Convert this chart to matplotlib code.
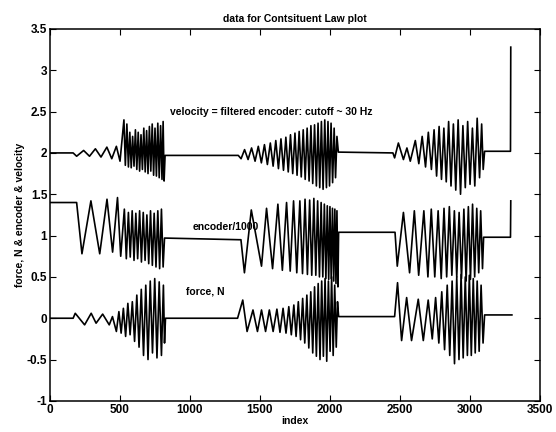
import matplotlib
matplotlib.use("Agg")
import matplotlib.pyplot as plt

# velocity = filtered encoder (offset ~2)
vel1_x = [0, 165, 190, 240, 282, 324, 364, 406, 441, 474, 500,
          528, 538, 549, 560, 570, 580, 590, 600, 610, 620, 630, 640, 650, 660, 670,
          680, 690, 700, 710, 720, 730, 740, 750, 760, 770, 780, 790, 800, 808, 815, 822]
vel1_y = [2.00, 2.00, 1.96, 2.03, 1.96, 2.05, 1.95, 2.07, 1.93, 2.08, 1.90,
          2.40, 1.85, 2.35, 1.83, 2.25, 1.82, 2.20, 1.84, 2.28, 1.80, 2.25, 1.78, 2.22, 1.80, 2.30,
          1.77, 2.27, 1.75, 2.32, 1.78, 2.35, 1.73, 2.30, 1.72, 2.36, 1.70, 2.33, 1.68, 2.38, 1.66, 1.97]
vel2_x = [1345, 1365, 1390, 1415, 1440, 1465, 1488, 1510, 1532, 1553, 1574, 1594, 1613, 1632, 1650,
          1668, 1685, 1702, 1718, 1734, 1750, 1765, 1780, 1795, 1809, 1823, 1837, 1851, 1864, 1877,
          1890, 1903, 1915, 1927, 1939, 1951, 1963, 1975, 1986, 1997, 2008, 2019, 2030, 2040, 2050, 2060]
vel2_y = [1.97, 1.93, 2.04, 1.92, 2.06, 1.90, 2.08, 1.88, 2.10, 1.86, 2.12, 1.84, 2.15, 1.81, 2.17,
          1.79, 2.19, 1.77, 2.22, 1.75, 2.24, 1.73, 2.26, 1.71, 2.28, 1.68, 2.30, 1.66, 2.33, 1.63,
          2.34, 1.60, 2.36, 1.58, 2.38, 1.56, 2.40, 1.58, 2.38, 1.60, 2.36, 1.64, 2.30, 1.70, 2.20, 2.01]
vel3_x = [2450, 2462, 2489, 2525, 2550, 2574, 2610, 2635, 2659, 2683, 2703, 2725, 2744, 2762, 2780,
          2797, 2814, 2831, 2848, 2865, 2882, 2899, 2916, 2933, 2950, 2967, 2984, 3001, 3018, 3035,
          3052, 3069, 3084, 3095, 3105, 3290, 3292]
vel3_y = [2.00, 1.94, 2.12, 1.92, 2.06, 1.90, 2.15, 1.87, 2.20, 1.83, 2.25, 1.80, 2.28, 1.72, 2.32,
          1.68, 2.30, 1.65, 2.38, 1.60, 2.35, 1.55, 2.40, 1.50, 2.33, 1.58, 2.38, 1.62, 2.30, 1.60,
          2.42, 1.70, 2.35, 1.80, 2.02, 2.02, 3.28]

# encoder/1000
enc1_x = [0, 190, 228, 292, 355, 407, 447, 482,
          505, 531, 545, 560, 573, 587, 600, 613, 626, 640, 653, 666, 679, 692, 705, 718,
          731, 744, 757, 770, 783, 796, 808, 818]
enc1_y = [1.40, 1.40, 0.78, 1.42, 0.78, 1.44, 0.80, 1.46,
          0.75, 1.32, 0.72, 1.28, 0.74, 1.30, 0.70, 1.27, 0.72, 1.30, 0.68, 1.28, 0.70, 1.25, 0.66, 1.30,
          0.64, 1.27, 0.62, 1.30, 0.60, 1.32, 0.62, 0.97]
enc2_x = [1350, 1364, 1389, 1438, 1511, 1547, 1590, 1628, 1660, 1690, 1716, 1740, 1763, 1785, 1804,
          1822, 1839, 1855, 1870, 1885, 1899, 1912, 1925, 1937, 1949, 1960, 1971, 1981, 1991, 2000,
          2009, 2018, 2027, 2035, 2043, 2050, 2057, 2062]
enc2_y = [0.95, 0.95, 0.55, 1.31, 0.63, 1.33, 0.60, 1.38, 0.58, 1.40, 0.57, 1.42, 0.55, 1.42, 0.54,
          1.44, 0.53, 1.43, 0.52, 1.45, 0.52, 1.42, 0.50, 1.40, 0.50, 1.38, 0.48, 1.36, 0.47, 1.35,
          0.48, 1.33, 0.45, 1.32, 0.42, 1.30, 0.38, 1.04]
enc3_x = [2455, 2465, 2481, 2525, 2569, 2603, 2634, 2671, 2700, 2724, 2749, 2773, 2795, 2815, 2834,
          2853, 2871, 2889, 2906, 2923, 2940, 2957, 2973, 2989, 3004, 3019, 3034, 3049, 3063, 3077,
          3090, 3098, 3290, 3292]
enc3_y = [1.04, 1.04, 0.63, 1.28, 0.55, 1.30, 0.52, 1.30, 0.50, 1.32, 0.50, 1.30, 0.48, 1.33, 0.50,
          1.35, 0.52, 1.30, 0.50, 1.28, 0.48, 1.32, 0.45, 1.35, 0.47, 1.38, 0.50, 1.33, 0.55, 1.30,
          0.60, 0.98, 0.98, 1.42]

# force, N
frc1_x = [0, 165, 180, 247, 294, 329, 376, 423, 446, 474,
          492, 508, 524, 540, 556, 572, 588, 604, 620, 636, 652, 668, 684, 700, 716, 732,
          748, 764, 780, 796, 810, 818, 825]
frc1_y = [0.00, 0.00, 0.06, -0.08, 0.06, -0.06, 0.05, -0.08, 0.02, -0.16,
          0.08, -0.18, 0.12, -0.22, 0.18, -0.20, 0.20, -0.28, 0.28, -0.35, 0.35, -0.45, 0.40, -0.50, 0.45, -0.42,
          0.48, -0.48, 0.44, -0.45, 0.40, -0.30, 0.00]
frc2_x = [1340, 1377, 1408, 1450, 1482, 1511, 1540, 1567, 1594, 1621, 1643, 1665, 1686, 1706, 1724,
          1742, 1758, 1774, 1790, 1805, 1820, 1835, 1849, 1863, 1877, 1890, 1903, 1916, 1929, 1941,
          1953, 1965, 1977, 1989, 2001, 2012, 2023, 2034, 2045, 2054, 2062]
frc2_y = [0.00, 0.22, -0.16, 0.10, -0.16, 0.10, -0.16, 0.10, -0.16, 0.11, -0.17, 0.12, -0.18, 0.14, -0.20,
          0.16, -0.22, 0.20, -0.26, 0.24, -0.30, 0.28, -0.36, 0.32, -0.42, 0.38, -0.46, 0.42, -0.50, 0.45,
          -0.46, 0.48, -0.52, 0.45, -0.40, 0.50, -0.45, 0.40, -0.35, 0.20, 0.02]
frc3_x = [2445, 2462, 2483, 2512, 2548, 2583, 2631, 2667, 2702, 2731, 2755, 2778, 2799, 2819, 2838,
          2856, 2873, 2890, 2906, 2922, 2937, 2952, 2967, 2982, 2996, 3010, 3024, 3038, 3052, 3066,
          3080, 3094, 3105, 3300]
frc3_y = [0.02, 0.02, 0.43, -0.27, 0.25, -0.27, 0.23, -0.27, 0.22, -0.25, 0.25, -0.30, 0.32, -0.38, 0.40,
          -0.45, 0.45, -0.55, 0.50, -0.50, 0.53, -0.48, 0.50, -0.45, 0.52, -0.45, 0.48, -0.42, 0.45, -0.40,
          0.40, -0.30, 0.04, 0.04]

x_ticks = [0, 500, 1000, 1500, 2000, 2500, 3000, 3500]
y_ticks = [-1, -0.5, 0, 0.5, 1, 1.5, 2, 2.5, 3, 3.5]
y_labels = ['-1', '-0.5', '0', '0.5', '1', '1.5', '2', '2.5', '3', '3.5']

plt.rcParams['font.family'] = ['Liberation Sans', 'DejaVu Sans']
plt.rcParams['font.weight'] = 'bold'

fig = plt.figure(figsize=(5.56, 4.32), dpi=100)
ax = fig.add_axes([0.09, 0.072, 0.881, 0.861])

# each series is drawn as one continuous line, like the original
vel_x = vel1_x + vel2_x + vel3_x
vel_y = vel1_y + vel2_y + vel3_y
enc_x = enc1_x + enc2_x + enc3_x
enc_y = enc1_y + enc2_y + enc3_y
frc_x = frc1_x + frc2_x + frc3_x
frc_y = frc1_y + frc2_y + frc3_y

for xs, ys in [(vel_x, vel_y), (enc_x, enc_y), (frc_x, frc_y)]:
    ax.plot(xs, ys, color='black', linewidth=1.2, solid_joinstyle='round')

ax.text(860, 2.5, 'velocity = filtered encoder: cutoff ~ 30 Hz', fontsize=7.5,
        fontweight='bold', va='center')
ax.text(1020, 1.1, 'encoder/1000', fontsize=7.5, fontweight='bold', va='center')
ax.text(975, 0.32, 'force, N', fontsize=7.5, fontweight='bold', va='center')

ax.set_xlim(0, 3500)
ax.set_ylim(-1, 3.5)
ax.set_xticks(x_ticks)
ax.set_xticklabels([str(t) for t in x_ticks])
ax.set_yticks(y_ticks)
ax.set_yticklabels(y_labels)
ax.tick_params(direction='in', top=True, right=True, length=4, labelsize=8.5, pad=2)
for s in ax.spines.values():
    s.set_linewidth(1.1)

ax.set_title('data for Contsituent Law plot', fontsize=7.5, fontweight='bold', pad=5)
ax.set_xlabel('index', fontsize=7.5, fontweight='bold', labelpad=0)
ax.set_ylabel('force, N & encoder & velocity', fontsize=7.5, fontweight='bold', labelpad=1)

fig.savefig('out.png', dpi=100)
